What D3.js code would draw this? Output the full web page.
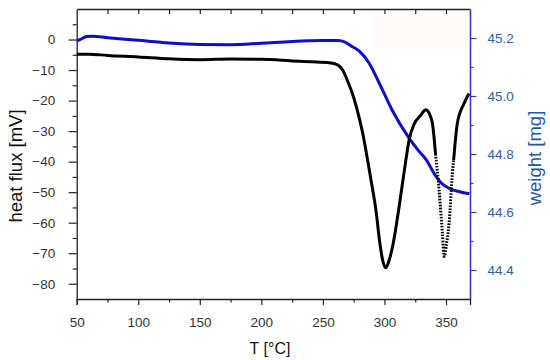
<!DOCTYPE html>
<html>
<head>
<meta charset="utf-8">
<script src="https://cdn.jsdelivr.net/npm/d3@7/dist/d3.min.js"></script>
<style>
  body { margin: 0; background: #fff; }
  text { font-family: Arial, "Liberation Sans", sans-serif; }
</style>
</head>
<body>
<div id="chart"></div>
<script>
// heat flux (DSC) curve, black, left axis
var fluxT = [50, 60, 75, 100, 125, 150, 175, 200, 225, 240, 255, 262, 266, 270, 275, 280, 283, 286.3, 289.5, 293.1, 296.3, 298.5, 301, 303.9, 307.1, 311.5, 314.7, 317.4, 320, 324, 329.5, 333.6, 337, 339, 341.5];
var fluxV = [-4.8, -4.8, -5.2, -5.7, -6.3, -6.6, -6.4, -6.5, -7.0, -7.3, -7.6, -8.3, -10.0, -13.5, -19, -26.5, -32, -39.5, -47, -55.9, -66.8, -72.2, -74.8, -72.2, -66.8, -55.9, -47, -39.5, -33, -27.8, -24.8, -23, -24.8, -27.5, -37.5];
// steep part around second peak (drawn dotted in the original)
var fluxDotT = [341.5, 344.4, 347.1, 348.6, 350.2, 352.5, 355.2, 356.2];
var fluxDotV = [-37.5, -49.3, -63.5, -71.1, -67.5, -60.2, -43.9, -39.5];
var fluxEndT = [356.2, 359.2, 364.7, 368.7];
var fluxEndV = [-39.5, -27.5, -20.9, -17.7];

// weight (TG) curve, blue, right axis
var massT = [50, 53, 58, 63, 75, 100, 125, 150, 175, 200, 225, 250, 262, 268, 274, 280, 287.6, 295.8, 306.3, 320, 328, 334, 341.5, 347, 350, 355, 361, 369];
var massV = [45.19, 45.195, 45.205, 45.206, 45.201, 45.192, 45.183, 45.178, 45.177, 45.182, 45.188, 45.191, 45.191, 45.186, 45.17, 45.153, 45.113, 45.044, 44.951, 44.855, 44.81, 44.78, 44.725, 44.697, 44.688, 44.677, 44.670, 44.663];

var xTicks = [50, 100, 150, 200, 250, 300, 350];
var yTicks = [0, -10, -20, -30, -40, -50, -60, -70, -80];
var y2Ticks = [45.2, 45.0, 44.8, 44.6, 44.4];

var W = 550, H = 360;
var margin = {top: 9, right: 80, bottom: 61, left: 76.7};
var width = W - margin.left - margin.right,
    height = H - margin.top - margin.bottom;

var svg = d3.select("#chart").append("svg")
    .attr("width", W).attr("height", H);

// faint pink patch seen in the scan
svg.append("rect")
    .attr("x", 375).attr("y", 16).attr("width", 92).attr("height", 32)
    .attr("fill", "#fef8f8");

var g = svg.append("g")
    .attr("transform", "translate(" + margin.left + "," + margin.top + ")");

var x = d3.scaleLinear().domain([50, 369.5]).range([0, width]);
var y = d3.scaleLinear().domain([-85, 10]).range([height, 0]);
var y2 = d3.scaleLinear().domain([44.3, 45.3]).range([height, 0]);

var line = d3.line().curve(d3.curveMonotoneX)
    .x(function(d) { return x(d[0]); })
    .y(function(d) { return y(d[1]); });
var line2 = d3.line().curve(d3.curveMonotoneX)
    .x(function(d) { return x(d[0]); })
    .y(function(d) { return y2(d[1]); });

// bottom axis
g.append("g").attr("transform", "translate(0," + height + ")")
    .call(d3.axisBottom(x).tickValues(xTicks).tickSize(6).tickPadding(12));
g.append("g").attr("transform", "translate(0," + height + ")")
    .call(d3.axisBottom(x).tickValues([75, 125, 175, 225, 275, 325]).tickSize(3.5).tickFormat(""))
    .select(".domain").remove();
// top frame with inward ticks
g.append("g")
    .call(d3.axisBottom(x).tickValues([75, 100, 125, 150, 175, 200, 225, 250, 275, 300, 325, 350]).tickSize(5).tickFormat("").tickSizeOuter(0));

// left axis
g.append("g")
    .call(d3.axisLeft(y).tickValues(yTicks).tickSize(8).tickPadding(13.5).tickSizeOuter(0));
g.append("g")
    .call(d3.axisLeft(y).tickValues([5, -5, -15, -25, -35, -45, -55, -65, -75]).tickSize(4).tickFormat(""))
    .select(".domain").remove();

g.selectAll(".domain").attr("stroke", "#222").attr("stroke-width", 1.3);
g.selectAll(".tick line").attr("stroke", "#222").attr("stroke-width", 1.2);
g.selectAll(".tick text").attr("font-size", 13.5).attr("fill", "#333");

// right axis (weight)
var right = g.append("g").attr("transform", "translate(" + width + ",0)");
right.append("g")
    .call(d3.axisRight(y2).tickValues(y2Ticks).tickSize(6.5).tickPadding(11).tickSizeOuter(0)
      .tickFormat(d3.format(".1f")));
right.append("g")
    .call(d3.axisRight(y2).tickValues([45.1, 44.9, 44.7, 44.5]).tickSize(3.5).tickFormat(""))
    .select(".domain").remove();
right.selectAll(".domain").attr("stroke", "#3b3bc6").attr("stroke-width", 1.6);
right.selectAll(".tick line").attr("stroke", "#3b3bc6").attr("stroke-width", 1.2);
right.selectAll(".tick text").attr("font-size", 13.5).attr("fill", "#2f5fa7");

// curves
g.append("path")
    .datum(massT.map(function(t, i) { return [t, massV[i]]; }))
    .attr("fill", "none").attr("stroke", "#0d0dcc").attr("stroke-width", 3)
    .attr("d", line2);

g.append("path")
    .datum(fluxT.map(function(t, i) { return [t, fluxV[i]]; }))
    .attr("fill", "none").attr("stroke", "#000").attr("stroke-width", 3)
    .attr("stroke-linejoin", "round")
    .attr("d", line);
g.append("path")
    .datum(fluxDotT.map(function(t, i) { return [t, fluxDotV[i]]; }))
    .attr("fill", "none").attr("stroke", "#000").attr("stroke-width", 3)
    .attr("stroke-dasharray", "1.6,1.4")
    .attr("d", line);
g.append("path")
    .datum(fluxEndT.map(function(t, i) { return [t, fluxEndV[i]]; }))
    .attr("fill", "none").attr("stroke", "#000").attr("stroke-width", 3)
    .attr("d", line);

// axis titles
svg.append("text")
    .attr("x", 270).attr("y", 354)
    .attr("text-anchor", "middle").attr("font-size", 16).attr("fill", "#111")
    .text("T [°C]");
svg.append("text")
    .attr("transform", "translate(22,166) rotate(-90)")
    .attr("text-anchor", "middle").attr("font-size", 18.5).attr("fill", "#111")
    .text("heat flux [mV]");
svg.append("text")
    .attr("transform", "translate(541,158) rotate(-90)")
    .attr("text-anchor", "middle").attr("font-size", 18.5).attr("fill", "#1c58a6")
    .text("weight [mg]");
</script>
</body>
</html>
